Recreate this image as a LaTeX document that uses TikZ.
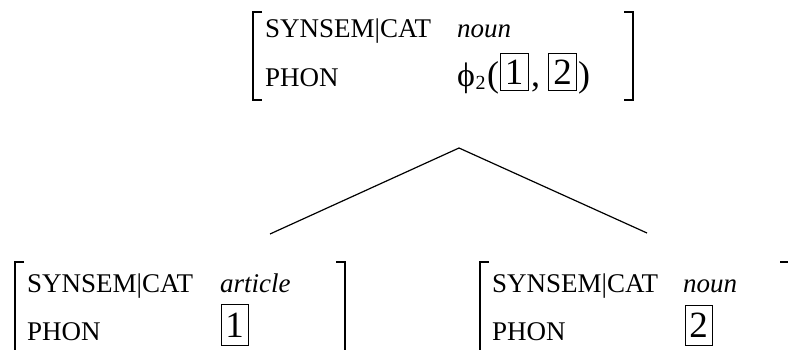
\documentclass[tikz,border=0pt]{standalone}
\usepackage{fontspec}
\setmainfont{Liberation Serif}
\begin{document}
\begin{tikzpicture}[x=1pt,y=1pt,
  lbl/.style={anchor=base west, inner sep=0pt, font=\fontsize{27}{32}\selectfont},
  big/.style={anchor=base west, inner sep=0pt, font=\fontsize{36}{40}\selectfont},
  val/.style={anchor=base west, inner sep=0pt, font=\fontsize{27}{32}\selectfont\itshape},
  tagbox/.style={draw, line width=1pt, inner sep=0pt, minimum width=28pt, minimum height=37pt, font=\fontsize{37}{40}\selectfont},
  brk/.style={line width=1.3pt},
  treeedge/.style={line width=1.2pt}]
\useasboundingbox (0,0) rectangle (788,349);

% ---- top AVM ----
\draw[brk] (262,337) -| (253,249) -- (262,249);
\draw[brk] (624,337) -| (633,249) -- (624,249);
\node[lbl] (t1) at (265,311) {SYNSEM|CAT};
\node[val] (t1v) at (457,311) {noun};
\node[lbl] (t2) at (265,262) {PHON};
\node[big, font=\fontsize{34}{40}\selectfont] (tphi) at (457,262) {\symbol{"03D5}};
\node[anchor=base west, inner sep=0pt, font=\fontsize{20}{20}\selectfont] (tsub) at (tphi.base east) {\raisebox{-2.5pt}{2}};
\node[big] (tlpar) at (487,262) {(};
\node[tagbox] (tb1) at (514,277) {1};
\node[big] (tcomma) at (531,262) {,};
\node[tagbox] (tb2) at (562.5,277) {2};
\node[big] (tpar) at (578,262) {)};

% ---- bottom-left AVM ----
\draw[brk] (24,87) -| (15,-5);
\draw[brk] (336,87) -| (345,-5);
\node[lbl] (l1) at (27,57) {SYNSEM|CAT};
\node[val] (l1v) at (220,57) {article};
\node[lbl] (l2) at (27,9) {PHON};
\node[tagbox, minimum width=27pt, minimum height=41pt] (lb1) at (234.5,24) {1};

% ---- bottom-right AVM ----
\draw[brk] (489,87) -| (480,-5);
\draw[brk] (780,87) -| (789,-5);
\node[lbl] (r1) at (492,57) {SYNSEM|CAT};
\node[val] (r1v) at (683,57) {noun};
\node[lbl] (r2) at (492,9) {PHON};
\node[tagbox, minimum width=27pt, minimum height=40pt] (rb2) at (698.5,24) {2};

% ---- tree ----
\coordinate (apex) at (459,201);
\coordinate (lend) at (270,115);
\coordinate (rend) at (647,116);
\draw[treeedge] (lend) -- (apex) -- (rend);
\end{tikzpicture}
\end{document}
